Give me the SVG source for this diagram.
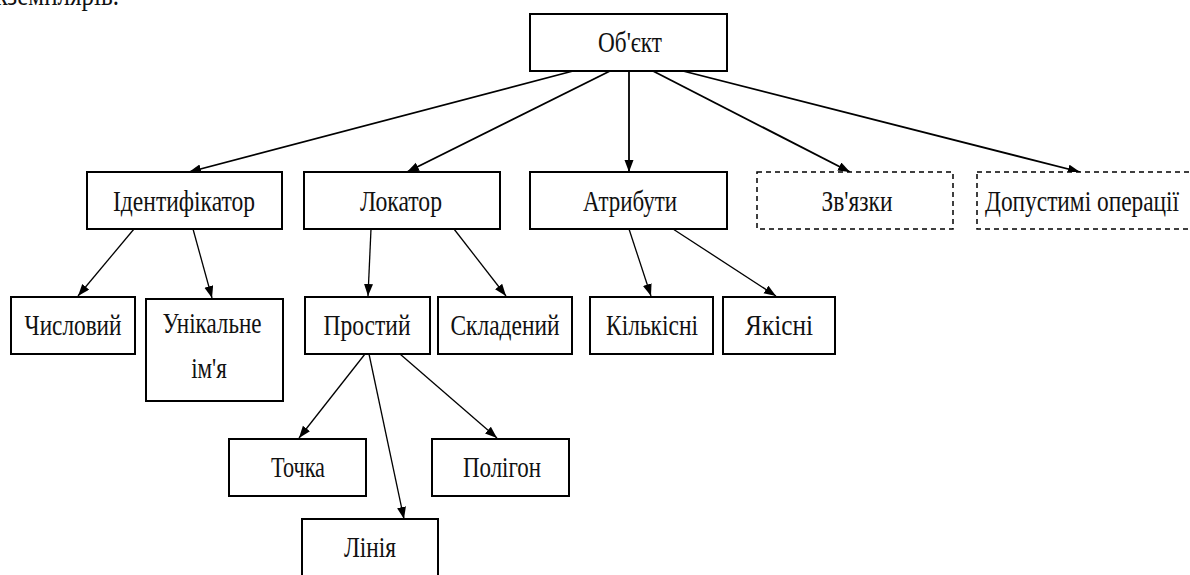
<svg xmlns="http://www.w3.org/2000/svg" width="1190" height="575" viewBox="0 0 1190 575">
<style>
.box{fill:#fff;stroke:#000;stroke-width:2}
.dash{fill:#fff;stroke:#000;stroke-width:1.5;stroke-dasharray:5,4}
.c{stroke:#000;stroke-width:1.3;fill:none;marker-end:url(#ah)}
.c2{stroke:#000;stroke-width:1.8;fill:none;marker-end:url(#ah)}
</style>
<defs>
<marker id="ah" markerUnits="userSpaceOnUse" markerWidth="13" markerHeight="10" refX="12" refY="4.5" orient="auto">
<path d="M0,0 L12,4.5 L0,9 z" fill="#000"/>
</marker>
</defs>
<rect width="1190" height="575" fill="#fff"/>
<text transform="translate(119,5) scale(1,1.15)" font-family="Liberation Serif, serif" font-size="25" text-anchor="end" fill="#111">екземплярів.</text>
<g id="connectors">
<line class="c2" x1="573" y1="71" x2="189" y2="172"/>
<line class="c2" x1="610" y1="71" x2="407" y2="172"/>
<line class="c2" x1="629" y1="71" x2="629" y2="172"/>
<line class="c2" x1="653" y1="71" x2="850" y2="172"/>
<line class="c2" x1="683" y1="71" x2="1080" y2="172"/>
<line class="c" x1="134" y1="229" x2="78" y2="296"/>
<line class="c" x1="193" y1="229" x2="212" y2="298"/>
<line class="c" x1="371" y1="229" x2="368" y2="296"/>
<line class="c" x1="454" y1="229" x2="506" y2="296"/>
<line class="c" x1="629" y1="229" x2="651" y2="296"/>
<line class="c" x1="673" y1="229" x2="776" y2="296"/>
<line class="c" x1="365" y1="354" x2="299" y2="438"/>
<line class="c" x1="369" y1="354" x2="404" y2="519"/>
<line class="c" x1="400" y1="354" x2="497" y2="438"/>
</g>
<g font-family="Liberation Serif, Times New Roman, serif" font-size="23" fill="#111" text-anchor="middle">
<g id="obj"><rect class="box" x="530" y="14" width="197" height="57"/><text transform="translate(630,52) scale(1,1.3)" textLength="64" lengthAdjust="spacingAndGlyphs">Об'єкт</text></g>
<g id="ident"><rect class="box" x="87" y="172" width="195" height="57"/><text transform="translate(184,211) scale(1,1.3)" textLength="142" lengthAdjust="spacingAndGlyphs">Ідентифікатор</text></g>
<g id="locator"><rect class="box" x="304" y="172" width="196" height="57"/><text transform="translate(401,211) scale(1,1.3)" textLength="82" lengthAdjust="spacingAndGlyphs">Локатор</text></g>
<g id="attrs"><rect class="box" x="530" y="172" width="197" height="57"/><text transform="translate(630,211) scale(1,1.3)" textLength="94" lengthAdjust="spacingAndGlyphs">Атрибути</text></g>
<g id="links"><rect class="dash" x="757" y="172" width="196" height="57"/><text transform="translate(857,211) scale(1,1.3)" textLength="71" lengthAdjust="spacingAndGlyphs">Зв'язки</text></g>
<g id="ops"><rect class="dash" x="977" y="172" width="230" height="57"/><text transform="translate(1082,211) scale(1,1.3)" textLength="194" lengthAdjust="spacingAndGlyphs">Допустимі  операції</text></g>
<g id="num"><rect class="box" x="11" y="297" width="124" height="57" stroke="#444"/><text transform="translate(73,335) scale(1,1.3)" textLength="97" lengthAdjust="spacingAndGlyphs">Числовий</text></g>
<g id="uniq"><rect class="box" x="146" y="299" width="137" height="102"/><text transform="translate(212,333) scale(1,1.3)" textLength="99" lengthAdjust="spacingAndGlyphs">Унікальне</text><text transform="translate(209,378) scale(1,1.3)">ім'я</text></g>
<g id="simple"><rect class="box" x="305" y="297" width="125" height="57"/><text transform="translate(367,335) scale(1,1.3)" textLength="87" lengthAdjust="spacingAndGlyphs">Простий</text></g>
<g id="compound"><rect class="box" x="438" y="297" width="134" height="57"/><text transform="translate(505,335) scale(1,1.3)" textLength="109" lengthAdjust="spacingAndGlyphs">Складений</text></g>
<g id="quant"><rect class="box" x="590" y="297" width="123" height="57"/><text transform="translate(652,335) scale(1,1.3)" textLength="92" lengthAdjust="spacingAndGlyphs">Кількісні</text></g>
<g id="qual"><rect class="box" x="723" y="297" width="112" height="57"/><text transform="translate(779,335) scale(1,1.3)" textLength="68" lengthAdjust="spacingAndGlyphs">Якісні</text></g>
<g id="point"><rect class="box" x="229" y="439" width="137" height="57"/><text transform="translate(298,477) scale(1,1.3)" textLength="54" lengthAdjust="spacingAndGlyphs">Точка</text></g>
<g id="polygon"><rect class="box" x="432" y="439" width="137" height="57"/><text transform="translate(502,477) scale(1,1.3)" textLength="78" lengthAdjust="spacingAndGlyphs">Полігон</text></g>
<g id="line"><rect class="box" x="302" y="519" width="136" height="60"/><text transform="translate(370,557) scale(1,1.3)" textLength="52" lengthAdjust="spacingAndGlyphs">Лінія</text></g>
</g>
</svg>
